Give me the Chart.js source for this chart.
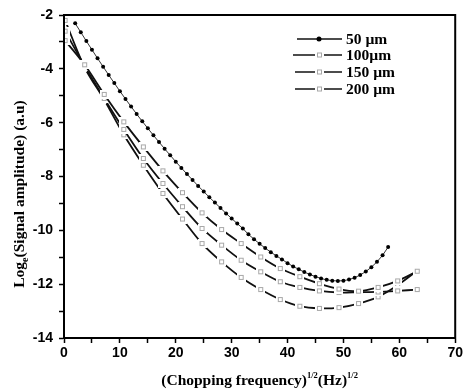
<!DOCTYPE html>
<html>
<head>
<meta charset="utf-8">
<script src="https://cdn.jsdelivr.net/npm/chart.js@4/dist/chart.umd.min.js"></script>
<style>
  html, body { margin: 0; padding: 0; background: #fff; }
  canvas { display: block; }
</style>
</head>
<body>
<canvas id="c" width="465" height="392"></canvas>
<script>
// ---- data ----
const seriesNames = ['50 \u00b5m', '100\u00b5m', '150 \u00b5m', '200 \u00b5m'];
const xTickLabels = [0, 10, 20, 30, 40, 50, 60, 70];
const yTickLabels = [-2, -4, -6, -8, -10, -12, -14];

const x50 = [2,3,4,5,6,7,8,9,10,11,12,13,14,15,16,17,18,19,20,21,22,23,24,25,26,27,28,29,30,
             31,32,33,34,35,36,37,38,39,40,41,42,43,44,45,46,47,48,49,50,51,52,53,54,55,56,57,58];
const y50 = [-2.31,-2.64,-2.97,-3.29,-3.61,-3.92,-4.23,-4.53,-4.83,-5.12,-5.40,-5.68,-5.95,-6.21,-6.47,
             -6.72,-6.97,-7.21,-7.45,-7.68,-7.91,-8.13,-8.35,-8.56,-8.77,-8.97,-9.17,-9.37,-9.56,-9.75,
             -9.93,-10.15,-10.33,-10.50,-10.66,-10.81,-10.95,-11.08,-11.22,-11.34,-11.45,-11.55,-11.64,
             -11.72,-11.79,-11.84,-11.87,-11.88,-11.87,-11.83,-11.76,-11.66,-11.53,-11.37,-11.17,-10.93,-10.62];

const xOther = [0.2,3.7,7.2,10.7,14.2,17.7,21.2,24.7,28.2,31.7,35.2,38.7,42.2,45.7,49.2,52.7,56.2,59.7,63.2];
const y100 = [-2.95,-3.85,-4.95,-5.97,-6.90,-7.79,-8.60,-9.35,-9.97,-10.49,-10.99,-11.42,-11.72,-11.98,-12.18,-12.26,-12.12,-11.88,-11.52];
const y150 = [-2.60,-3.90,-5.10,-6.25,-7.33,-8.26,-9.12,-9.93,-10.55,-11.11,-11.54,-11.91,-12.12,-12.25,-12.31,-12.30,-12.29,-12.25,-12.20];
const y200 = [-2.20,-3.95,-5.15,-6.45,-7.58,-8.63,-9.58,-10.49,-11.17,-11.75,-12.20,-12.57,-12.82,-12.90,-12.87,-12.72,-12.47,-12.04,-11.50];

const pts = (xs, ys) => xs.map((x, i) => ({x: x, y: ys[i]}));

// open square marker with a white gap around it (like the reference)
const marker = document.createElement('canvas');
marker.width = 9; marker.height = 9;
(function () {
  const m = marker.getContext('2d');
  m.fillStyle = '#fff'; m.fillRect(0, 0, 9, 9);
  m.strokeStyle = '#a8a8a8'; m.lineWidth = 1;
  m.strokeRect(2.5, 2.5, 4, 4);
})();

const openSq = {
  borderColor: '#111', borderWidth: 1.8, pointStyle: marker, pointRadius: 4,
  tension: 0.3, fill: false
};

const decor = {
  id: 'decor',
  afterDraw(chart) {
    const ctx = chart.ctx, a = chart.chartArea;
    ctx.save();
    // frame top and right, and left axis redrawn over markers
    ctx.strokeStyle = '#000'; ctx.lineWidth = 2;
    ctx.beginPath();
    ctx.moveTo(a.left, a.bottom); ctx.lineTo(a.left, a.top);
    ctx.lineTo(a.right, a.top); ctx.lineTo(a.right, a.bottom + 1);
    ctx.stroke();

    // x title with superscripts
    const big = 'bold 15.5px "Liberation Serif"', small = 'bold 8.5px "Liberation Serif"';
    const xparts = [['(Chopping frequency)', big, 0], ['1/2', small, -7], ['(Hz)', big, 0], ['1/2', small, -7]];
    let tw = 0;
    xparts.forEach(p => { ctx.font = p[1]; tw += ctx.measureText(p[0]).width; });
    let xx = (a.left + a.right) / 2 - tw / 2;
    ctx.fillStyle = '#000'; ctx.textBaseline = 'alphabetic'; ctx.textAlign = 'left';
    xparts.forEach(p => { ctx.font = p[1]; ctx.fillText(p[0], xx, 385 + p[2]); xx += ctx.measureText(p[0]).width; });

    // y title with subscript
    const yparts = [['Log', big, 0], ['e', 'bold 10px "Liberation Serif"', 4], ['(Signal amplitude) (a.u)', big, 0]];
    tw = 0;
    yparts.forEach(p => { ctx.font = p[1]; tw += ctx.measureText(p[0]).width; });
    ctx.save();
    ctx.translate(24, 194);
    ctx.rotate(-Math.PI / 2);
    let yx = -tw / 2;
    yparts.forEach(p => { ctx.font = p[1]; ctx.fillText(p[0], yx, p[2]); yx += ctx.measureText(p[0]).width; });
    ctx.restore();

    // legend
    const rows = [39, 55, 72, 89];
    const starts = [297, 293, 295, 295];
    chart.data.datasets.forEach((ds, i) => {
      const y = rows[i];
      ctx.strokeStyle = '#111'; ctx.lineWidth = 1.6;
      ctx.beginPath(); ctx.moveTo(starts[i], y); ctx.lineTo(342, y); ctx.stroke();
      if (i === 0) {
        ctx.fillStyle = '#000';
        ctx.beginPath(); ctx.arc(319, y, 2.5, 0, Math.PI * 2); ctx.fill();
      } else {
        ctx.drawImage(marker, 315, y - 4.5);
      }
      ctx.fillStyle = '#000';
      ctx.font = 'bold 15.5px "Liberation Serif"';
      ctx.textBaseline = 'middle';
      ctx.fillText(ds.label, 346, y + 1);
    });
    ctx.restore();
  }
};

new Chart(document.getElementById('c'), {
  type: 'line',
  data: {
    datasets: [
      { label: seriesNames[0], data: pts(x50, y50), borderColor: '#000', borderWidth: 0.8,
        pointRadius: 2, pointBackgroundColor: '#000', pointBorderWidth: 0, tension: 0, fill: false },
      Object.assign({ label: seriesNames[1], data: pts(xOther, y100) }, openSq),
      Object.assign({ label: seriesNames[2], data: pts(xOther, y150) }, openSq),
      Object.assign({ label: seriesNames[3], data: pts(xOther, y200) }, openSq)
    ]
  },
  options: {
    responsive: false,
    animation: false,
    devicePixelRatio: 1,
    layout: { padding: { top: 15, right: 7, left: 0, bottom: 0 } },
    plugins: { legend: { display: false }, tooltip: { enabled: false } },
    scales: {
      x: {
        type: 'linear', min: 0, max: 70,
        afterFit: s => { s.height = 54; },
        ticks: {
          stepSize: 5, autoSkip: false, maxRotation: 0, padding: 2, color: '#000',
          font: { family: '"Liberation Sans"', weight: 'bold', size: 14 },
          callback: v => xTickLabels.includes(v) ? String(v) : ''
        },
        grid: { drawOnChartArea: false, drawTicks: true, tickLength: 5, tickColor: '#000', tickWidth: 1.5 },
        border: { display: true, color: '#000', width: 2 }
      },
      y: {
        type: 'linear', min: -14, max: -2,
        afterFit: s => { s.width = 64; },
        ticks: {
          stepSize: 1, autoSkip: false, padding: 6, color: '#000',
          font: { family: '"Liberation Sans"', weight: 'bold', size: 14 },
          callback: v => yTickLabels.includes(v) ? String(v) : ''
        },
        grid: { drawOnChartArea: false, drawTicks: true, tickLength: 5, tickColor: '#000', tickWidth: 1.5 },
        border: { display: true, color: '#000', width: 2 }
      }
    }
  },
  plugins: [decor]
});
</script>
</body>
</html>
